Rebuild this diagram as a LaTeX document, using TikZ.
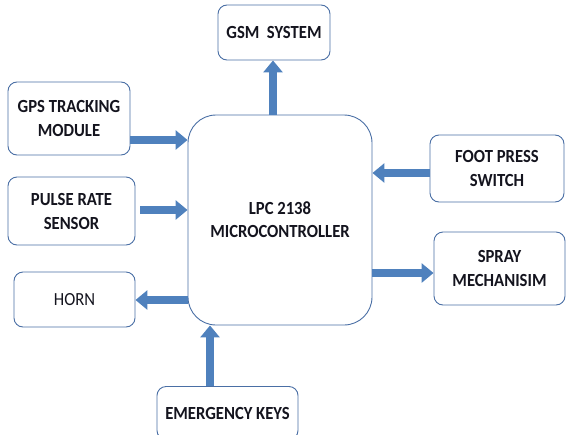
\documentclass[tikz,border=0pt]{standalone}
\usepackage{fontspec}
\setmainfont[FakeStretch=0.9]{Carlito}
\usetikzlibrary{arrows.meta}
\definecolor{boxline}{HTML}{4A6FA5}
\definecolor{arrowfill}{HTML}{4F81BD}
\definecolor{txt}{HTML}{14141E}
\tikzset{
  blk/.style={draw=boxline, line width=0.9pt, rounded corners=9pt, fill=white, align=center,
    text=txt, font=\fontsize{18.5}{21}\selectfont\bfseries, inner sep=0pt},
  arr/.style={draw=arrowfill, line width=8pt, -{Triangle[width=19pt,length=12pt]}}
}
\begin{document}
\begin{tikzpicture}[x=1pt,y=-1pt]
\useasboundingbox (0,0) rectangle (567,434);
\node[blk, minimum width=184pt, minimum height=210pt, rounded corners=28pt] (main) at (280,220) {LPC 2138\\[2pt]MICROCONTROLLER};
\node[blk, minimum width=112pt, minimum height=55pt] (gsm) at (274,32.5) {GSM\ \ SYSTEM};
\node[blk, minimum width=122pt, minimum height=73pt] (gps) at (69,118.5) {GPS TRACKING\\[3pt]MODULE};
\node[blk, minimum width=127pt, minimum height=68pt] (pulse) at (71.5,211) {PULSE RATE\\[3pt]SENSOR};
\node[blk, minimum width=121pt, minimum height=55pt, font=\fontsize{18.5}{21}\selectfont] (horn) at (74.5,299.5) {HORN};
\node[blk, minimum width=141pt, minimum height=53pt] (emerg) at (227.5,413) {EMERGENCY KEYS};
\node[blk, minimum width=134pt, minimum height=67pt] (foot) at (497,168.5) {FOOT PRESS\\[3pt]SWITCH};
\node[blk, minimum width=131pt, minimum height=73pt] (spray) at (499.5,268.5) {SPRAY\\[3pt]MECHANISIM};
\coordinate (yg) at (0,140);
\coordinate (yp) at (0,210);
\coordinate (yh) at (0,300);
\coordinate (yf) at (0,173);
\coordinate (ys) at (0,273);
\coordinate (xg) at (273,0);
\coordinate (xe) at (210,0);
\draw[arr] (main.north -| xg) -- (gsm.south -| xg);
\draw[arr] (gps.east |- yg) -- (main.west |- yg);
\draw[arr] ([xshift=5pt]pulse.east |- yp) -- (main.west |- yp);
\draw[arr] (main.west |- yh) -- (horn.east |- yh);
\draw[arr] (emerg.north -| xe) -- (main.south -| xe);
\draw[arr] (foot.west |- yf) -- (main.east |- yf);
\draw[arr] (main.east |- ys) -- (spray.west |- ys);
\end{tikzpicture}
\end{document}
